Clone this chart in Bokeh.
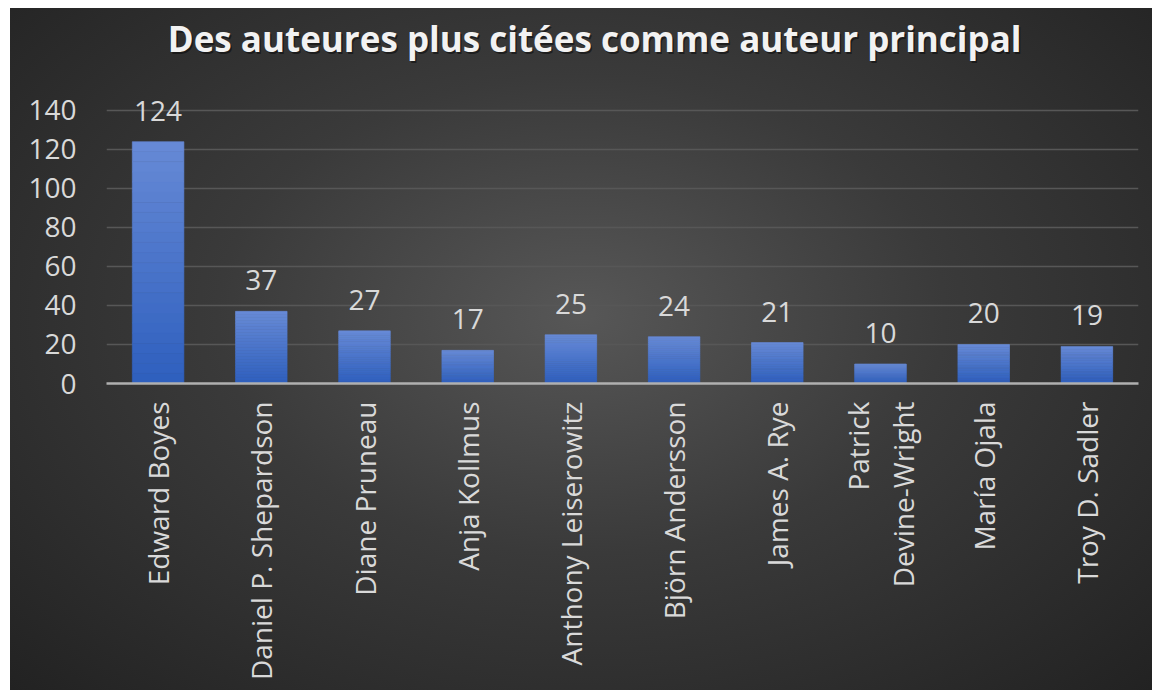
import math
from bokeh.plotting import figure
from bokeh.models import ColumnDataSource, FactorRange, Range1d, FixedTicker, LabelSet, Label
from bokeh.core.properties import value
from bokeh.embed import file_html
from bokeh.resources import INLINE

authors = ["Edward Boyes", "Daniel P. Shepardson", "Diane Pruneau", "Anja Kollmus",
           "Anthony Leiserowitz", "Björn Andersson", "James A. Rye",
           "Patrick\nDevine-Wright", "María Ojala", "Troy D. Sadler"]
citations = [124, 37, 27, 17, 25, 24, 21, 10, 20, 19]
y_ticks = [0, 20, 40, 60, 80, 100, 120, 140]
title_text = "Des auteures plus citées comme auteur principal"

FONT = "Open Sans"
Y_TOP = 192.3   # frame extends up to the top of the chart, so the title sits inside it

p = figure(width=1142, height=682, x_range=FactorRange(*authors, range_padding=0),
           y_range=Range1d(0, Y_TOP), output_backend="svg", toolbar_location=None,
           min_border_left=96, min_border_right=14, min_border_top=0, min_border_bottom=307)

p.styles = {"background": "radial-gradient(ellipse at 50% 45%, #575757 0%, #3a3a3a 45%, #222222 100%)",
            "margin-left": "10px", "margin-top": "8px"}
p.background_fill_alpha = 0
p.border_fill_alpha = 0
p.outline_line_color = None

# gradient bars built from slices of each value
N = 24
top_c = (0x67, 0x8a, 0xd6)
bot_c = (0x2e, 0x5f, 0xbe)
xs, bots, tops, cols = [], [], [], []
for a, v in zip(authors, citations):
    for k in range(N):
        f0 = k / N
        f1 = (k + 1) / N
        t = (k + 0.5) / N
        c = tuple(int(round(bot_c[i] + (top_c[i] - bot_c[i]) * t)) for i in range(3))
        xs.append(a)
        bots.append(v * f0)
        tops.append(v * f1)
        cols.append("#%02x%02x%02x" % c)
src = ColumnDataSource(dict(x=xs, bottom=bots, top=tops, color=cols))
p.vbar(x="x", bottom="bottom", top="top", width=0.5, source=src,
       fill_color="color", line_color="color", line_width=0.6)

lab_src = ColumnDataSource(dict(x=authors, y=citations, t=[str(v) for v in citations]))
p.add_layout(LabelSet(x="x", y="y", text="t", source=lab_src, text_align="center",
                      text_baseline="bottom", y_offset=21, text_color="#d9d9d9",
                      text_font=value(FONT), text_font_size=value("28px")))

# title (with a soft shadow)
for dx, dy, col, alpha in [(1.5, -2.5, "#000000", 0.45), (0, 0, "#f2f2f2", 1.0)]:
    p.add_layout(Label(x=4.73, y=177.0, text=title_text, text_align="center",
                       text_baseline="alphabetic", x_offset=dx, y_offset=dy,
                       text_color=col, text_alpha=alpha, text_font=FONT,
                       text_font_style="bold", text_font_size="35px"))

p.ygrid.grid_line_color = "#575757"
p.ygrid.grid_line_width = 1.5
p.xgrid.grid_line_color = None

p.yaxis.ticker = FixedTicker(ticks=y_ticks)
p.yaxis.axis_line_color = None
p.yaxis.major_tick_line_color = None
p.yaxis.minor_tick_line_color = None
p.yaxis.major_tick_out = 0
p.yaxis.major_label_standoff = 30
p.yaxis.major_label_text_font = FONT
p.yaxis.major_label_text_font_size = "28px"
p.yaxis.major_label_text_color = "#d9d9d9"

p.xaxis.axis_line_color = "#b0b0b0"
p.xaxis.axis_line_width = 2.5
p.xaxis.major_tick_line_color = None
p.xaxis.minor_tick_line_color = None
p.xaxis.major_tick_out = 0
p.xaxis.major_label_standoff = 18
p.xaxis.major_label_orientation = math.pi / 2
p.xaxis.major_label_text_align = "center"
p.xaxis.major_label_text_font = FONT
p.xaxis.major_label_text_font_size = "28px"
p.xaxis.major_label_text_color = "#d9d9d9"

open("out.html", "w").write(file_html(p, INLINE))
